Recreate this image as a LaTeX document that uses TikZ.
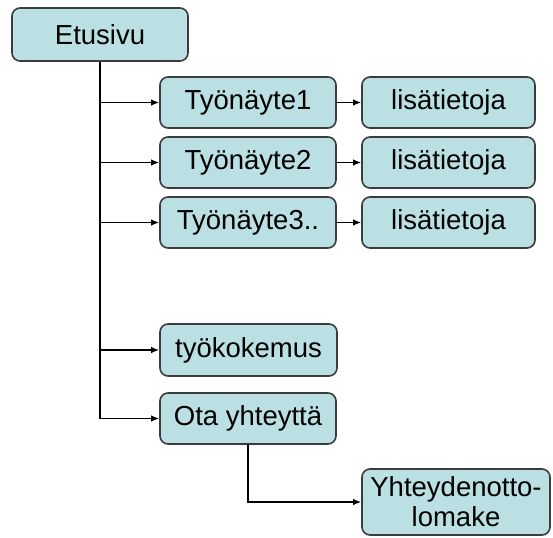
\documentclass[tikz,border=0pt]{standalone}
\usepackage{fontspec}
\setmainfont{Liberation Sans}
\usetikzlibrary{arrows.meta}
\definecolor{boxfill}{RGB}{187,224,227}
\definecolor{boxline}{RGB}{60,60,60}
\begin{document}
\begin{tikzpicture}[x=1pt,y=-1pt,
  page/.style={draw=boxline, line width=1.6pt, fill=boxfill, rounded corners=8pt,
    minimum width=176pt, minimum height=51pt, inner sep=0pt,
    font=\fontsize{27.5}{30}\selectfont, align=center},
  link/.style={line width=1.5pt, -{Latex[length=8pt,width=6.5pt]}}]
\useasboundingbox (0,0) rectangle (553,537);

\node[page, minimum height=53pt] (etu) at (100,34.5) {Etusivu};
\node[page] (t1) at (248,102.5) {Työnäyte1};
\node[page] (t2) at (248,162.5) {Työnäyte2};
\node[page] (t3) at (248,222.5) {Työnäyte3..};
\node[page, minimum width=173pt] (l1) at (448.5,102.5) {lisätietoja};
\node[page, minimum width=173pt] (l2) at (448.5,162.5) {lisätietoja};
\node[page, minimum width=173pt] (l3) at (448.5,222.5) {lisätietoja};
\node[page, minimum width=177pt, minimum height=52pt] (kok) at (248.5,350) {työkokemus};
\node[page] (ota) at (248,418.5) {Ota yhteyttä};
\node[page, minimum width=188pt, minimum height=66pt] (lom) at (456,502) {Yhteydenotto-\\lomake};

\draw[link] (etu.south) |- (t1.west);
\draw[link] (etu.south) |- (t2.west);
\draw[link] (etu.south) |- (t3.west);
\draw[link] (etu.south) |- (kok.west);
\draw[link] (etu.south) |- (ota.west);
\draw[link] (t1.east) -- (l1.west);
\draw[link] (t2.east) -- (l2.west);
\draw[link] (t3.east) -- (l3.west);
\draw[link] (ota.south) |- (lom.west);
\end{tikzpicture}
\end{document}
